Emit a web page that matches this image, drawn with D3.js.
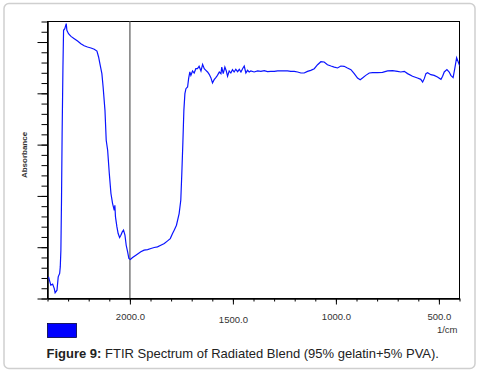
<!DOCTYPE html>
<html>
<head>
<meta charset="utf-8">
<script src="https://cdn.jsdelivr.net/npm/d3@7"></script>
<style>
  body { margin: 0; background: #fff; }
  text { font-family: "Liberation Sans", Arial, sans-serif; }
</style>
</head>
<body>
<div id="chart"></div>
<script>
// Wavenumbers (1/cm) and absorbance
const wavenumber = [
  2395,2384,2375,2367,2363,2354,2348,2341,2338,2335,
  2332,2329,2325,2322,2316,2309,2306,2298,2286,2270,
  2254,2238,2222,2206,2189,2173,2160,2152,2144,2136,
  2130,2121,2115,2108,2100,2092,2084,2076,2073,2070,
  2063,2057,2050,2044,2037,2031,2024,2018,2011,2005,
  1998,1987,1971,1947,1931,1914,1898,1882,1866,1850,
  1833,1817,1804,1793,1785,1774,1761,1753,1748,1743,
  1738,1733,1728,1720,1715,1709,1704,1696,1688,1680,
  1672,1664,1655,1647,1639,1631,1623,1615,1607,1599,
  1591,1583,1575,1566,1558,1554,1547,1539,1532,1526,
  1518,1510,1502,1494,1486,1477,1469,1461,1453,1445,
  1437,1429,1421,1413,1397,1380,1364,1348,1332,1316,
  1299,1283,1267,1251,1235,1219,1202,1186,1170,1154,
  1138,1122,1105,1089,1073,1057,1041,1024,1008,992,
  976,960,944,927,911,895,882,871,855,838,
  822,798,774,749,725,701,685,668,652,628,
  604,588,579,571,563,555,539,523,507,490,
  482,474,461,450,442,431,423,414,406,398
];
const absorbance = [
  0.211,0.130,0.140,0.097,0.055,0.081,0.211,0.244,0.308,0.471,
  0.958,1.607,2.256,2.614,2.630,2.679,2.614,2.581,2.555,2.532,
  2.510,2.484,2.464,2.451,2.442,2.429,2.412,2.354,2.273,2.192,
  2.062,1.834,1.542,1.445,1.218,1.023,0.925,0.860,0.909,0.795,
  0.698,0.633,0.594,0.617,0.649,0.666,0.617,0.519,0.455,0.390,
  0.380,0.399,0.422,0.455,0.471,0.477,0.487,0.497,0.503,0.519,
  0.536,0.562,0.584,0.633,0.666,0.714,0.828,0.958,1.218,1.510,
  1.834,1.997,2.045,2.062,2.143,2.208,2.175,2.218,2.198,2.240,
  2.240,2.263,2.218,2.282,2.240,2.224,2.208,2.185,2.153,2.101,
  2.133,2.153,2.175,2.208,2.192,2.256,2.192,2.256,2.218,2.166,
  2.218,2.198,2.231,2.208,2.234,2.211,2.234,2.208,2.240,2.266,
  2.198,2.224,2.208,2.218,2.208,2.218,2.214,2.221,2.211,2.214,
  2.214,2.218,2.218,2.218,2.218,2.214,2.214,2.208,2.198,2.198,
  2.214,2.224,2.240,2.279,2.308,2.305,2.279,2.266,2.256,2.247,
  2.266,2.263,2.247,2.231,2.192,2.149,2.133,2.149,2.175,2.198,
  2.201,2.201,2.205,2.218,2.221,2.214,2.208,2.214,2.192,2.166,
  2.149,2.136,2.110,2.143,2.192,2.201,2.182,2.175,2.159,2.136,
  2.166,2.208,2.231,2.208,2.175,2.153,2.240,2.347,2.305,2.263
];
const xMinorTicks = d3.range(400, 2401, 100);
const xLabelTicks = [2000, 1500, 1000, 500];
const yMinorTicks = d3.range(0, 28).map(i => i / 10);
const yMajorTicks = [0, 0.5, 1, 1.5, 2, 2.5];
const markerLine = 2000;

const W = 479, H = 372;
const margin = {top: 21.5, right: 19.5, bottom: 73.5, left: 47.5};
const plotW = W - margin.left - margin.right;
const plotH = H - margin.top - margin.bottom;

const svg = d3.select("#chart").append("svg")
  .attr("width", W)
  .attr("height", H);

// outer rounded frame
svg.append("rect")
  .attr("x", 4).attr("y", 3.5)
  .attr("width", 471).attr("height", 365)
  .attr("rx", 5)
  .attr("fill", "none")
  .attr("stroke", "#cfcfcf")
  .attr("stroke-width", 1.5);

const x = d3.scaleLinear().domain([2400, 400]).range([margin.left, margin.left + plotW]);
const y = d3.scaleLinear().domain([0, 2.7]).range([margin.top + plotH, margin.top]);

// plot box
svg.append("rect")
  .attr("x", margin.left).attr("y", margin.top)
  .attr("width", plotW).attr("height", plotH)
  .attr("fill", "none")
  .attr("stroke", "#000");

// gray marker at 2000
svg.append("line")
  .attr("x1", x(markerLine)).attr("x2", x(markerLine))
  .attr("y1", margin.top).attr("y2", margin.top + plotH)
  .attr("stroke", "#7a7a7a")
  .attr("stroke-width", 1.5);

// x axis: minor + labelled ticks
const xg = svg.append("g").attr("transform", `translate(0,${margin.top + plotH})`);
xg.append("g")
  .call(d3.axisBottom(x).tickValues(xMinorTicks).tickSize(3).tickSizeOuter(0).tickFormat(""));
const xl = xg.append("g")
  .call(d3.axisBottom(x).tickValues(xLabelTicks).tickSize(6).tickSizeOuter(0)
    .tickFormat(d => d.toFixed(1)));
xg.selectAll("path.domain").attr("stroke", "#000");
xg.selectAll(".tick line").attr("stroke", "#000");
xl.selectAll("text")
  .attr("dy", null)
  .attr("y", d => d === 1500 ? 24 : 21)
  .attr("fill", "#333")
  .attr("font-size", "9.5px")
  .attr("font-family", "Liberation Sans, Arial, sans-serif");

// y axis: minor + major ticks, no labels
const yg = svg.append("g").attr("transform", `translate(${margin.left},0)`);
yg.append("g")
  .call(d3.axisLeft(y).tickValues(yMinorTicks).tickSize(6).tickSizeOuter(0).tickFormat(""));
yg.append("g")
  .call(d3.axisLeft(y).tickValues(yMajorTicks).tickSize(10).tickSizeOuter(0).tickFormat(""));
yg.selectAll("path.domain").attr("stroke", "#000");
yg.selectAll(".tick line").attr("stroke", "#000");

// spectrum
svg.append("defs").append("clipPath").attr("id", "clip")
  .append("rect")
  .attr("x", margin.left).attr("y", margin.top)
  .attr("width", plotW).attr("height", plotH);

const pts = wavenumber.map((w, i) => [w, absorbance[i]]);
svg.append("path")
  .datum(pts)
  .attr("clip-path", "url(#clip)")
  .attr("fill", "none")
  .attr("stroke", "#0a14ff")
  .attr("stroke-width", 1.2)
  .attr("d", d3.line().x(d => x(d[0])).y(d => y(d[1])));

// axis titles
svg.append("text")
  .attr("transform", `translate(27,${margin.top + plotH / 2 - 5}) rotate(-90)`)
  .attr("text-anchor", "middle")
  .attr("font-size", "8px")
  .attr("font-weight", "bold")
  .attr("fill", "#333")
  .text("Absorbance");

svg.append("text")
  .attr("x", margin.left + plotW - 2)
  .attr("y", 333)
  .attr("text-anchor", "end")
  .attr("font-size", "9.5px")
  .attr("fill", "#333")
  .text("1/cm");

// legend swatch
svg.append("rect")
  .attr("x", 47.5).attr("y", 323.5)
  .attr("width", 29).attr("height", 14)
  .attr("fill", "#0000ff")
  .attr("stroke", "#000040")
  .attr("stroke-width", 0.8);

// caption
const cap = svg.append("text")
  .attr("x", 46.5)
  .attr("y", 357.5)
  .attr("font-size", "13px")
  .attr("fill", "#222");
cap.append("tspan").attr("font-weight", "bold").text("Figure 9:");
cap.append("tspan").text(" FTIR Spectrum of Radiated Blend (95% gelatin+5% PVA).");
</script>
</body>
</html>
